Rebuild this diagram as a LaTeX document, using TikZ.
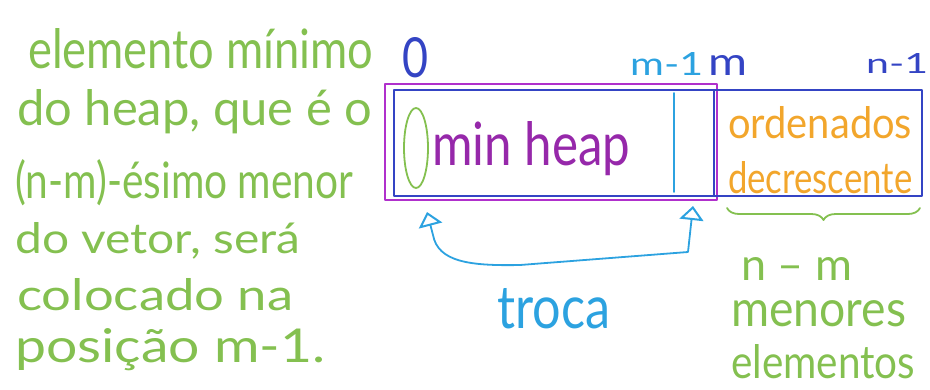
\documentclass[tikz,border=0pt]{standalone}
\usepackage{fontspec}
\setmainfont{Lato}
\usetikzlibrary{arrows.meta,decorations.pathreplacing}

\definecolor{hgreen}{RGB}{132,192,80}
\definecolor{hpurple}{RGB}{176,48,204}
\definecolor{hviolet}{RGB}{150,40,170}
\definecolor{hblue}{RGB}{52,68,196}
\definecolor{hcyan}{RGB}{44,162,224}
\definecolor{horange}{RGB}{242,166,44}

% text set to a given width and height (height above the baseline)
\newcommand\fitwh[3]{\resizebox{#1}{#2}{#3}}

\tikzset{swaptip/.tip={Triangle[open,width=24pt,length=14pt,line width=2pt]}}

\begin{document}
\begin{tikzpicture}[x=1pt,y=-1pt,
  hand/.style={inner sep=0pt, anchor=base west},
  stroke/.style={line width=2.2pt, line cap=round, line join=round}]
\useasboundingbox (0,0) rectangle (930,389);

% explanation on the left
\node[hand, text=hgreen] (l1) at (28,68)  {\fitwh{345pt}{40pt}{elemento mínimo}};
\node[hand, text=hgreen] (l2) at (17,125) {\fitwh{355pt}{36pt}{do heap, que é o}};
\node[hand, text=hgreen] (l3) at (15,198) {\fitwh{338pt}{39pt}{(n-m)-ésimo menor}};
\node[hand, text=hgreen] (l4) at (15,253) {\fitwh{285pt}{31pt}{do vetor, será}};
\node[hand, text=hgreen] (l5) at (17,310) {\fitwh{276pt}{32pt}{colocado na}};
\node[hand, text=hgreen] (l6) at (15,362) {\fitwh{310pt}{34pt}{posição m-1.}};

% the array and the heap part of it
\node[stroke, draw=hpurple, minimum width=332pt, minimum height=116pt, inner sep=0pt] (heap) at (551,142) {};
\node[stroke, draw=hblue, minimum width=528pt, minimum height=106pt, inner sep=0pt] (vec) at (658,143) {};
\coordinate (mtop) at (714,90);
\coordinate (mbot) at (714,196);
\draw[stroke, hblue] (mtop) -- (mbot);
\coordinate (ltop) at (674,93);
\coordinate (lbot) at (674,192);
\draw[stroke, hcyan, line width=1.6pt] (ltop) -- (lbot);

% index labels
\node[hand, text=hblue] (i0) at (402,77) {\fitwh{26pt}{40pt}{0}};
\node[hand, text=hcyan] (im1) at (630,75) {\fitwh{73pt}{23pt}{m-1}};
\node[hand, text=hblue] (im) at (708,75) {\fitwh{39pt}{20pt}{m}};
\node[hand, text=hblue] (in1) at (866,73) {\fitwh{62pt}{20pt}{n-1}};

% contents
\draw[stroke, hgreen, line width=1.8pt] (416,148) ellipse [x radius=12pt, y radius=40pt];
\node[hand, text=hviolet] (mh) at (432,165) {\fitwh{198pt}{44pt}{min heap}};
\node[hand, text=horange] (ord) at (728,138) {\fitwh{184pt}{32pt}{ordenados}};
\node[hand, text=horange] (dec) at (728,193) {\fitwh{184pt}{32pt}{decrescente}};

% swap of the first and the last heap positions
\coordinate (swapL) at (427,212);
\coordinate (swapR) at (693,206);
\draw[stroke, hcyan, line width=1.8pt, arrows={swaptip-swaptip}]
  (swapL) -- (433,235) .. controls (438,262) and (470,266) .. (520,265)
  -- (688,252) -- (swapR);
\node[hand, text=hcyan] (troca) at (497,328) {\fitwh{113pt}{40pt}{troca}};

% sorted part
\draw[stroke, hgreen, line width=1.8pt, decorate, decoration={brace, mirror, amplitude=12pt}]
  (727,208) -- (920,208);
\node[hand, text=hgreen] (nm) at (741,280) {\fitwh{111pt}{23pt}{n – m}};
\node[hand, text=hgreen] (men) at (731,326) {\fitwh{175pt}{26pt}{menores}};
\node[hand, text=hgreen] (ele) at (731,378) {\fitwh{184pt}{34pt}{elementos}};
\end{tikzpicture}
\end{document}
